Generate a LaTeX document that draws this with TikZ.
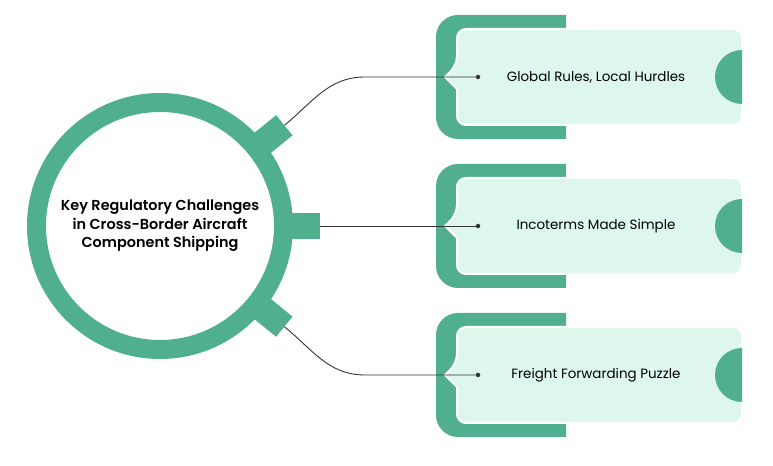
\documentclass[tikz,border=0pt]{standalone}
\usepackage{fontspec}
\setmainfont{Poppins}[BoldFont={Poppins SemiBold}]
\usetikzlibrary{positioning,calc}
\definecolor{ringgreen}{RGB}{79,175,142}
\definecolor{mintbg}{RGB}{221,247,236}
\definecolor{wire}{RGB}{51,51,51}
\tikzset{
  hubtext/.style={font=\bfseries\fontsize{14.5}{18.5}\selectfont,align=center,text=black},
  hubtab/.style={fill=ringgreen,minimum width=36bp,minimum height=26bp,inner sep=0pt},
  boxtext/.style={font=\fontsize{13.5}{15}\selectfont,text=black},
  wirestyle/.style={draw=wire,line width=0.9bp},
  enddot/.style={circle,fill=wire,inner sep=0pt,minimum size=4.5bp},
}
\begin{document}
\begin{tikzpicture}[x=1bp,y=1bp]
  \useasboundingbox (0,0) rectangle (773,466);
  % hub ring with its three tabs
  \coordinate (hub) at (160,240);
  \draw[ringgreen,line width=19bp] (hub) circle[radius=123.5];
  \foreach \a/\n in {39/1,0/2,-39/3}{
    \node[hubtab,rotate=\a] (tab\n) at ($(hub)+(\a:142)$) {};
    \coordinate (t\n) at ($(hub)+(\a:160)$);
  }
  \node[hubtext] (hubtitle) at (hub) {Key Regulatory Challenges\\in Cross-Border Aircraft\\Component Shipping};
  % the three cards
  \foreach \n/\y/\txt in {1/389/{Global Rules, Local Hurdles},2/240/{Incoterms Made Simple},3/91/{Freight Forwarding Puzzle}}{
    \fill[ringgreen] (566,\y+62) -- (458,\y+62) arc[start angle=90,end angle=180,radius=22]
      -- (436,\y-40) arc[start angle=180,end angle=270,radius=22] -- (566,\y-62) -- cycle;
    \draw[white,line width=2bp,fill=mintbg] (457,\y-12) [rounded corners=9bp] -- (457,\y-48)
      -- (742,\y-48) -- (742,\y+48) -- (457,\y+48) -- (457,\y+12) [sharp corners] -- (445,\y) -- cycle;
    \fill[ringgreen] (742,\y+27) arc[start angle=90,end angle=270,radius=27] -- cycle;
    \node[enddot] (d\n) at (478,\y) {};
    \node[boxtext] (lbl\n) at (596,\y) {\txt};
  }
  % connectors
  \coordinate (k1) at (365,389);
  \coordinate (k3) at (365,91);
  \draw[wirestyle] (t1) to[out=39,in=180] (k1) -- (d1);
  \draw[wirestyle] (t2) -- (d2);
  \draw[wirestyle] (t3) to[out=-39,in=180] (k3) -- (d3);
\end{tikzpicture}
\end{document}
